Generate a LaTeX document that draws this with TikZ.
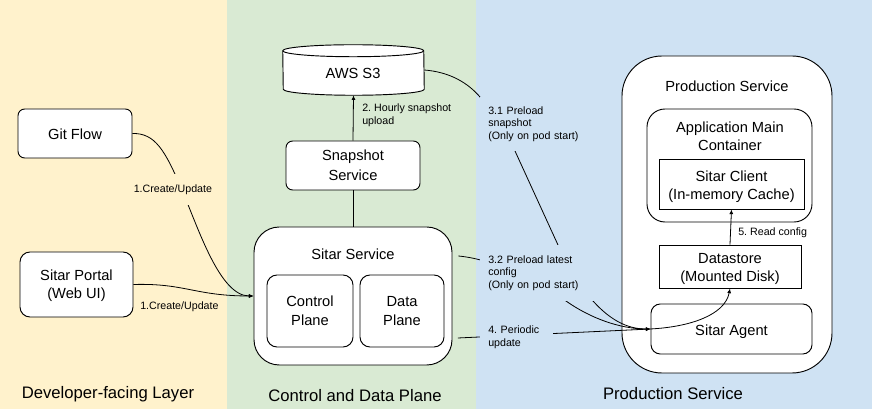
\documentclass[tikz,border=0pt]{standalone}
\usepackage{fontspec}
\setmainfont{Liberation Sans}
\usepackage{color, xcolor}
\usepackage{tikz}
\usetikzlibrary{positioning,calc,arrows.meta}
\definecolor{laneyellow}{HTML}{FFF2CC}
\definecolor{lanegreen}{HTML}{D9EAD3}
\definecolor{laneblue}{HTML}{CFE2F3}
\frenchspacing
\tikzset{
  box/.style={draw=black, fill=white, line width=0.7pt, align=center, inner sep=0pt, font=\fontsize{11}{13.6}\selectfont},
  title/.style={align=center, inner sep=0pt, font=\fontsize{11}{13.6}\selectfont},
  lane/.style={align=center, inner sep=0pt, font=\fontsize{12.5}{15}\selectfont},
  lbl/.style={align=left, inner sep=0pt, anchor=west, font=\fontsize{8}{9.5}\selectfont},
  mask/.style={lbl, inner xsep=6pt},
  link/.style={draw=black, line width=0.6pt},
  arrow/.style={link, -{Latex[length=3.5pt,width=3pt]}}
}

\begin{document}
\begin{tikzpicture}[x=0.75pt, y=-0.75pt]
            \useasboundingbox (0,0) rectangle (872,409);
            \fill[laneyellow] (0,0) rectangle (227,409);
            \fill[lanegreen] (227,0) rectangle (476,409);
            \fill[laneblue] (476,0) rectangle (872,409);

            \node[box, rounded corners=5pt, minimum width=85.5pt, minimum height=36.75pt] (git) at (75,133.5) {};
            \node[title] (gittitle) at (75,134.5) {Git Flow};
            \node[box, rounded corners=7.5pt, minimum width=84.75pt, minimum height=48.75pt] (portal) at (76.5,284.5) {};
            \node[title] (portaltitle) at (76.5,286) {Sitar Portal\\(Web UI)};

            \node[box, rounded corners=19pt, minimum width=148.5pt, minimum height=103.5pt] (service) at (353,296) {};
            \node[title] (servicetitle) at (353,254) {Sitar Service};
            \node[box, rounded corners=7.5pt, minimum width=64.5pt, minimum height=54pt] (control) at (310,311) {Control\\[1pt]Plane};
            \node[box, rounded corners=7.5pt, minimum width=63pt, minimum height=54pt] (data) at (402,311) {Data\\[1pt]Plane};
            \node[box, rounded corners=5pt, minimum width=100.5pt, minimum height=36.75pt] (snapshot) at (353,165.5) {Snapshot\\[1.2pt]Service};

            \node[inner sep=0pt, minimum width=105.75pt, minimum height=37.5pt] (aws) at (353.5,70) {};
            \draw[fill=white, line width=0.7pt] ([yshift=-4.5pt]aws.north west) arc (180:0:52.875pt and 4.5pt) -- ([yshift=4.5pt]aws.south east) arc (0:-180:52.875pt and 4.5pt) -- cycle;
            \draw[line width=0.7pt] ([yshift=-4.5pt]aws.north west) arc (180:360:52.875pt and 4.5pt);
            \node[title] (awstitle) at (353,73) {AWS S3};

            \node[box, rounded corners=30pt, minimum width=157.5pt, minimum height=237.75pt] (prod) at (727,214.5) {};
            \node[title] (prodtitle) at (727,86) {Production Service};
            \node[box, rounded corners=13.5pt, minimum width=123.75pt, minimum height=84.75pt] (app) at (729.5,165.5) {};
            \node[title] (apptitle) at (730,136) {Application Main\\Container};
            \node[box, minimum width=108.75pt, minimum height=37.5pt] (client) at (731.5,184) {};
            \node[title] (clienttitle) at (731.5,187) {Sitar Client\\(In-memory Cache)};
            \node[box, minimum width=106.5pt, minimum height=32.25pt] (datastore) at (730,266.5) {};
            \node[title] (datatitle) at (730,269) {Datastore\\(Mounted Disk)};
            \node[box, rounded corners=7pt, minimum width=120.75pt, minimum height=37.5pt] (agent) at (731.5,329) {};

            \draw[arrow] (git.east) .. controls (155,133) and (165,150) .. (182,190) .. controls (199,230) and (220,296) .. (service.west);
            \draw[arrow] (portal.east) .. controls (185,283) and (195,296) .. (service.west);
            \draw[link] (service.north) -- (snapshot.south);
            \draw[arrow] (snapshot.north) -- (aws.south);
            \draw[arrow] (aws.east) .. controls (450,72) and (468,83) .. (480,97) -- (515,151) -- (558,245) .. controls (570,272) and (578,285) .. (593,301) .. controls (612,322) and (630,330) .. (650,329) .. controls (690,327) and (725,315) .. (datastore.south);
            \draw[arrow] ([shift={(4.5pt,30pt)}]service.east) .. controls (500,260) and (540,285) .. (566,301) .. controls (590,318) and (620,329) .. (agent.west);
            \draw[arrow] ([shift={(4pt,-31.5pt)}]service.east) -- (agent.west);
            \draw[arrow] (datastore.north) -- (client.south);

            \node[title] (agenttitle) at (731.5,332) {Sitar Agent};
            \node[lbl, fill=laneyellow, minimum height=23.25pt] (create1) at (133.5,190) {1.Create/Update};
            \node[lbl] (create2) at (140,306.5) {1.Create/Update};
            \node[lbl] (hourly) at (362,115.5) {2. Hourly snapshot\\upload};
            \node[mask, fill=laneblue, text width=70.5pt, minimum height=40.5pt] (preload1) at (480,124) {3.1 Preload\\snapshot\\(Only on pod start)};
            \node[mask, fill=laneblue, text width=78pt, minimum height=42pt] (preload2) at (480,273) {3.2 Preload latest\\config\\(Only on pod start)};
            \node[mask, fill=laneblue, text width=42.75pt, minimum height=22.5pt] (periodic) at (480,337.5) {4. Periodic\\update};
            \node[lbl] (read) at (738,233) {5. Read config};

            \node[lane] (devlane) at (108,394) {Developer-facing Layer};
            \node[lane] (ctrllane) at (355,396) {Control and Data Plane};
            \node[lane] (prodlane) at (673,394) {Production Service};
          \end{tikzpicture}
\end{document}
